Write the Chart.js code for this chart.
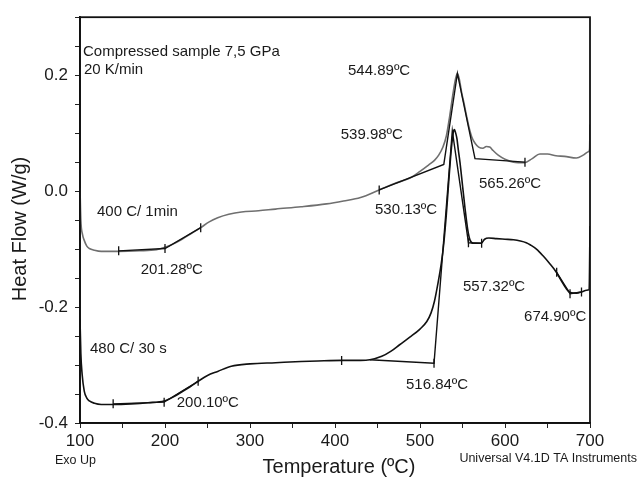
<!DOCTYPE html>
<html><head><meta charset="utf-8">
<script src="https://cdn.jsdelivr.net/npm/chart.js@4.4.0/dist/chart.umd.min.js"></script>
<style>html,body{margin:0;padding:0;background:#fff;}#wrap{width:639px;height:479px;}</style>
</head><body><div id="wrap"><canvas id="c" width="639" height="479"></canvas></div>
<script>
// ---- DATA ----
// Curve "400 C/ 1min" (grey)
const greyT  = [100,101,103,105,108,111,117,125,145,170,190,200,210,220,230,242,252,262,275,290,310,330,360,390,410,430,452,470,490,500,510,517,522,527,531,535,539,542,544,546,549,552,555,558,561,565,569,574,578,582,586,592,600,610,623,632,641,650,660,670,684,692,698,699.5,700];
const greyHF = [0.005,-0.05,-0.075,-0.085,-0.095,-0.099,-0.102,-0.104,-0.104,-0.103,-0.101,-0.097,-0.091,-0.083,-0.074,-0.063,-0.053,-0.046,-0.040,-0.036,-0.034,-0.031,-0.027,-0.022,-0.017,-0.011,0.002,0.013,0.024,0.034,0.045,0.053,0.062,0.076,0.095,0.13,0.17,0.195,0.203,0.195,0.17,0.15,0.128,0.108,0.093,0.082,0.076,0.074,0.077,0.076,0.07,0.062,0.055,0.05,0.049,0.056,0.064,0.064,0.061,0.06,0.057,0.062,0.068,0.072,0.115];
// Curve "480 C/ 30 s" (black)
const blackT  = [100,101,102.5,105,108,111,117,125,140,160,180,199,210,220,230,239,250,262,278,300,330,360,380,408,430,441,455,466,476,488,500,508,513,517,521,525,528,531,533,535,537,539,540.5,542,543.5,545,547,550,553,556,559,563,572,576,581,590,600,610,618,625,630,637,645,652,660,666,672,677,684,690,696,699,700];
const blackHF = [-0.22,-0.28,-0.316,-0.345,-0.357,-0.362,-0.366,-0.368,-0.368,-0.367,-0.365,-0.362,-0.355,-0.346,-0.337,-0.328,-0.318,-0.311,-0.302,-0.298,-0.296,-0.294,-0.293,-0.292,-0.292,-0.291,-0.285,-0.276,-0.265,-0.252,-0.238,-0.225,-0.21,-0.19,-0.16,-0.125,-0.09,-0.04,0.0,0.04,0.075,0.1,0.106,0.1,0.09,0.072,0.05,0.01,-0.03,-0.065,-0.085,-0.09,-0.09,-0.083,-0.081,-0.082,-0.083,-0.084,-0.086,-0.089,-0.093,-0.1,-0.112,-0.124,-0.139,-0.154,-0.168,-0.175,-0.176,-0.174,-0.171,-0.17,-0.06];
// Tangent / baseline constructions (TA analysis lines)
const greyConstrT  = [[145.5,200,242],[452,528,544,564.7,623.5]];
const greyConstrHF = [[-0.103,-0.099,-0.063],[0.002,0.046,0.203,0.056,0.05]];
const blackConstrT  = [[139,199,239],[441,516.5,538,557,572.5],[660.8,676.5,690]];
const blackConstrHF = [[-0.367,-0.364,-0.328],[-0.291,-0.297,0.104,-0.089,-0.09],[-0.14,-0.177,-0.174]];
// Analysis tick marks
const markT  = [145.5,200,242,452,623.5,139,199,239,407.8,516.5,557,572.5,660.8,676.5,690];
const markHF = [-0.103,-0.099,-0.063,0.002,0.05,-0.367,-0.364,-0.328,-0.292,-0.297,-0.089,-0.09,-0.14,-0.177,-0.174];
// Annotation texts and anchors (temperature, heat flow)
const labelText = ['Compressed sample 7,5 GPa','20 K/min','544.89ºC','539.98ºC','565.26ºC','530.13ºC','400 C/ 1min','201.28ºC','480 C/ 30 s','200.10ºC','516.84ºC','557.32ºC','674.90ºC'];
const labelT    = [103.5,104.7,415.3,406.7,569.4,447,120,171.4,111.8,213.8,483.5,550.6,622.4];
const labelHF   = [0.2405,0.2095,0.2073,0.0966,0.0131,-0.032,-0.0363,-0.136,-0.272,-0.366,-0.3336,-0.1658,-0.217];
// Axis ticks
const xMin = 100, xMax = 700, xStep = 50, xLabelEvery = 100;
const yMin = -0.4, yMax = 0.3, yStep = 0.05, yLabelEvery = 0.2;
const xTitle = 'Temperature (ºC)', yTitle = 'Heat Flow (W/g)';
const footLeft = 'Exo Up', footRight = 'Universal V4.1D TA Instruments';

// ---- BUILD ----
const zip = (a,b) => a.map((v,i)=>({x:v,y:b[i]}));
const FONT = '"Liberation Sans", Arial, sans-serif';
const datasets = [];
datasets.push({data:zip(greyT,greyHF),borderColor:'#6f6f6f',borderWidth:1.6,pointRadius:0,showLine:true,cubicInterpolationMode:'monotone',order:3});
datasets.push({data:zip(blackT,blackHF),borderColor:'#111',borderWidth:1.6,pointRadius:0,showLine:true,cubicInterpolationMode:'monotone',order:3});
greyConstrT.forEach((t,i)=>datasets.push({data:zip(t,greyConstrHF[i]),borderColor:'#111',borderWidth:1.4,pointRadius:0,showLine:true,tension:0,order:2}));
blackConstrT.forEach((t,i)=>datasets.push({data:zip(t,blackConstrHF[i]),borderColor:'#111',borderWidth:1.4,pointRadius:0,showLine:true,tension:0,order:2}));
datasets.push({data:zip(markT,markHF),showLine:false,pointStyle:'line',rotation:90,pointRadius:4.5,borderColor:'#111',borderWidth:1.3,order:1});

const textPlugin = {
  id:'texts',
  afterDraw(chart){
    const {ctx, chartArea:a, scales:{x,y}} = chart;
    ctx.save();
    // frame
    ctx.strokeStyle='#111'; ctx.lineWidth=1.8;
    ctx.strokeRect(a.left, a.top, a.right-a.left, a.bottom-a.top);
    ctx.fillStyle='#1a1a1a';
    ctx.font='15px '+FONT; ctx.textAlign='left'; ctx.textBaseline='middle';
    labelText.forEach((t,i)=>ctx.fillText(t, x.getPixelForValue(labelT[i]), y.getPixelForValue(labelHF[i])));
    // axis titles
    ctx.font='20px '+FONT; ctx.textAlign='center';
    ctx.fillText(xTitle, (a.left+a.right)/2+4, 467);
    ctx.save(); ctx.translate(20, 229); ctx.rotate(-Math.PI/2); ctx.fillText(yTitle,0,0); ctx.restore();
    ctx.font='12.5px '+FONT; ctx.textAlign='left';
    ctx.fillText(footLeft, 55, 461);
    ctx.textAlign='right';
    ctx.fillText(footRight, 637, 459);
    ctx.restore();
  }
};

new Chart(document.getElementById('c'), {
  type:'scatter',
  data:{datasets},
  options:{
    responsive:false, animation:false, devicePixelRatio:1,
    layout:{padding:{left:0,right:49,top:12,bottom:0}},
    plugins:{legend:{display:false},tooltip:{enabled:false}},
    scales:{
      x:{type:'linear',min:xMin,max:xMax,
        afterFit(s){s.height=56;},
        border:{display:true,color:'#111',width:1.8},
        grid:{display:true,drawOnChartArea:false,drawTicks:true,tickLength:5,color:'#222',lineWidth:1},
        ticks:{stepSize:xStep,autoSkip:false,maxRotation:0,padding:3,color:'#1a1a1a',font:{size:17,family:FONT},
          callback:v=> (Math.round(v)%xLabelEvery===0 ? String(v) : '')}},
      y:{type:'linear',min:yMin,max:yMax,
        afterFit(s){s.width=80;},
        border:{display:true,color:'#111',width:1.8},
        grid:{display:true,drawOnChartArea:false,drawTicks:true,tickLength:5,color:'#222',lineWidth:1},
        ticks:{stepSize:yStep,autoSkip:false,padding:7,color:'#1a1a1a',font:{size:17,family:FONT},
          callback:v=>{const r=Math.round(v*100); const e=Math.round(yLabelEvery*100); return r%e===0 ? (r/100).toFixed(1) : '';}}}
    }
  },
  plugins:[textPlugin]
});
</script></body></html>
